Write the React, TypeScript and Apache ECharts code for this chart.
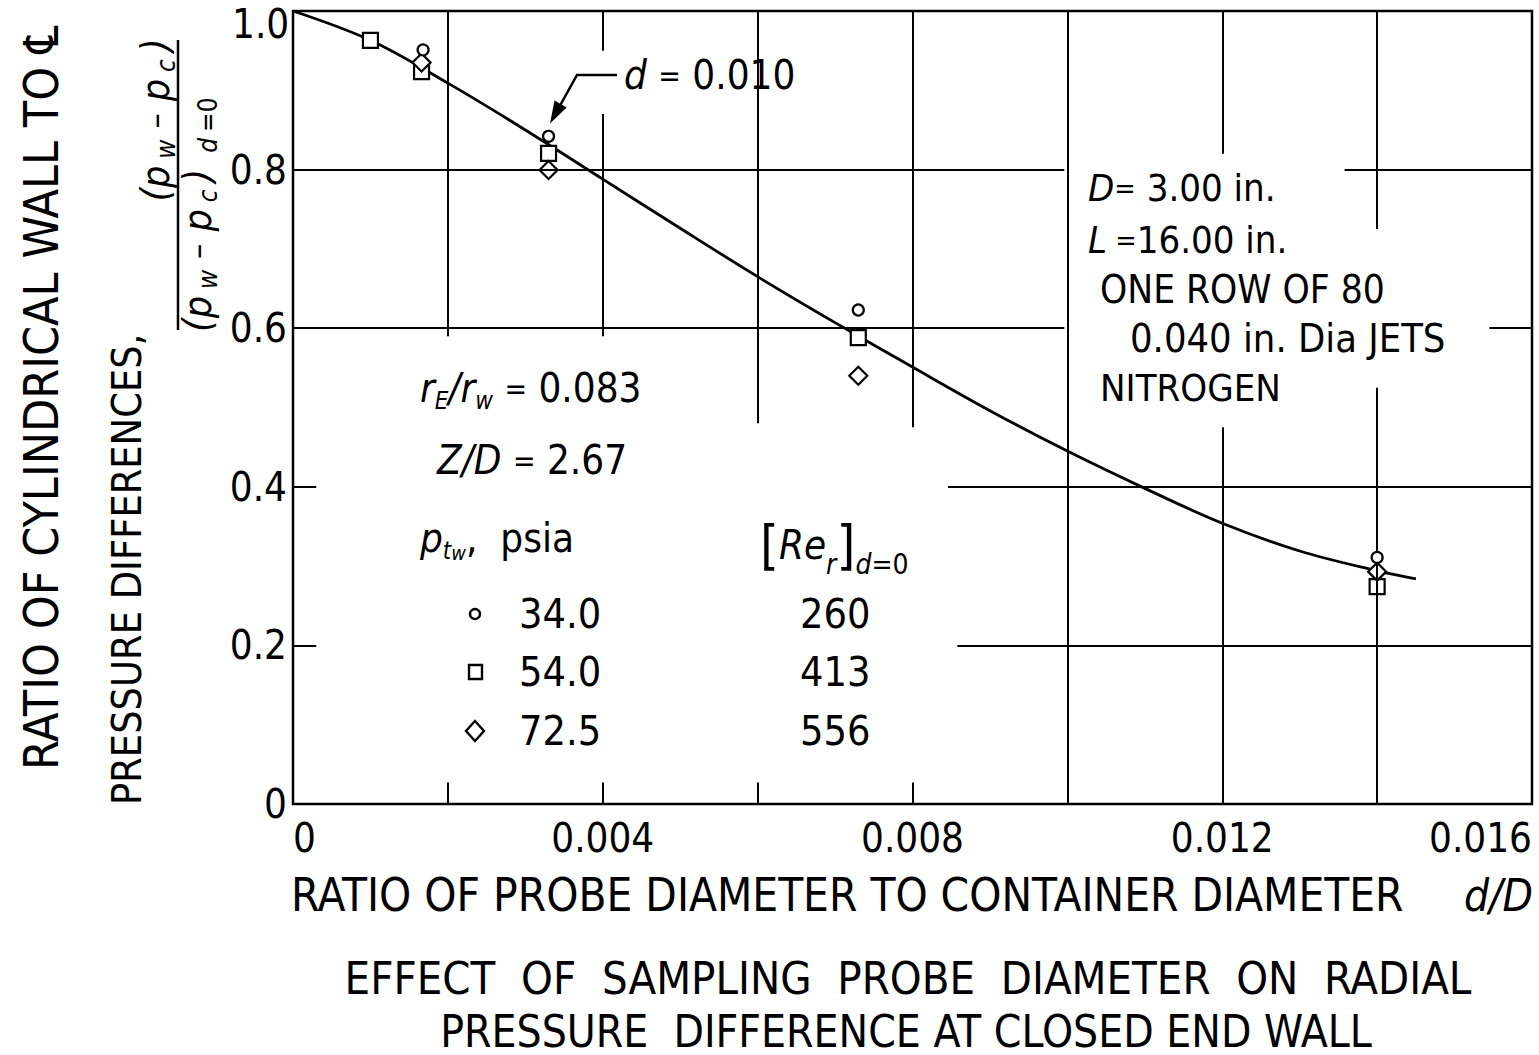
import React, { useEffect, useRef } from "react";
import * as echarts from "echarts";

const FONT = "'DejaVu Sans Condensed', 'DejaVu Sans', sans-serif";

// Fitted curve
const CURVE_X = [0, 0.001, 0.002, 0.003, 0.004, 0.005, 0.006, 0.007, 0.008, 0.009, 0.010, 0.011, 0.012, 0.013, 0.014, 0.0145];
const CURVE_Y = [1.0, 0.963, 0.909, 0.850, 0.788, 0.726, 0.665, 0.607, 0.551, 0.496, 0.445, 0.398, 0.354, 0.319, 0.294, 0.284];

// p_tw = 34.0 psia (circles)
const CIRCLE_X = [0.00168, 0.0033, 0.0073, 0.0140];
const CIRCLE_Y = [0.951, 0.842, 0.623, 0.311];
// p_tw = 54.0 psia (squares)
const SQUARE_X = [0.0010, 0.00166, 0.0033, 0.0073, 0.0140];
const SQUARE_Y = [0.963, 0.9235, 0.8205, 0.588, 0.274];
// p_tw = 72.5 psia (diamonds)
const DIAMOND_X = [0.00166, 0.0033, 0.0073, 0.0140];
const DIAMOND_Y = [0.935, 0.7995, 0.540, 0.293];

// Legend table
const LEGEND_PSIA = ["34.0", "54.0", "72.5"];
const LEGEND_RE = ["260", "413", "556"];

// Partial grid lines (they stop where the lettering sits)
const GRID_V: [number, number, number][] = [
  [0.002, 0.59, 1], [0.002, 0, 0.027],
  [0.004, 0.59, 0.87], [0.004, 0.95, 1], [0.004, 0, 0.027],
  [0.006, 0.48, 1], [0.006, 0, 0.027],
  [0.008, 0.475, 1], [0.008, 0, 0.027],
  [0.010, 0, 1],
  [0.012, 0, 0.475], [0.012, 0.82, 1],
  [0.014, 0, 0.525], [0.014, 0.725, 1],
];
const GRID_H: [number, number, number][] = [
  [0.2, 0, 0.0003], [0.2, 0.00858, 0.016],
  [0.4, 0, 0.0003], [0.4, 0.00846, 0.016],
  [0.6, 0, 0.00996], [0.6, 0.01545, 0.016],
  [0.8, 0, 0.00996], [0.8, 0.01358, 0.016],
];

const zip = (xs: number[], ys: number[]) => xs.map((x, i) => [x, ys[i]]);

const T = (fs: number, extra: any = {}) => ({ fontSize: fs, fontFamily: FONT, fill: "#000", lineHeight: fs * 1.25, verticalAlign: "middle", ...extra });
const S = (fs: number, extra: any = {}) => ({ fontSize: fs, fontFamily: FONT, fill: "#000", lineHeight: fs, verticalAlign: "bottom", ...extra });

function txt(x: number, y: number, text: string, fs: number, extra: any = {}, rot = 0, align = "left") {
  return {
    type: "text", x, y, rotation: rot, silent: true,
    style: { text, fontSize: fs, fontFamily: FONT, fill: "#000", align, verticalAlign: "middle", ...extra },
  };
}

function richTxt(x: number, y: number, text: string, rich: any, rot = 0, align = "left") {
  return {
    type: "text", x, y, rotation: rot, silent: true,
    style: { text, rich, fill: "#000", fontFamily: FONT, align, verticalAlign: "middle" },
  };
}

export default function App() {
  const ref = useRef<HTMLDivElement>(null);
  useEffect(() => {
    if (!ref.current) return;
    const chart = echarts.init(ref.current, null, { renderer: "svg" });
    const R90 = Math.PI / 2;
    const gridLines = [
      ...GRID_V.map(([x, a, b]) => [{ coord: [x, a] }, { coord: [x, b] }]),
      ...GRID_H.map(([y, a, b]) => [{ coord: [a, y] }, { coord: [b, y] }]),
    ];
    const mk = { color: "#fff", borderColor: "#000", borderWidth: 2.2, opacity: 1 };
    const eq = (fs: number) => T(fs * 0.75);
    const frac = {
      p: T(39, { fontStyle: "italic", padding: [0, 4] }),
      m: T(34, { padding: [0, 8] }),
      s: S(26, { fontStyle: "italic", padding: [0, 3] }),
      d: S(26, { fontStyle: "italic", padding: [0, 3, 0, 12] }),
      z: S(26, { padding: [0, 3] }),
    };
    const graphics: any[] = [
      // y max label (kept inside the page)
      txt(232, 24, "1.0", 40),
      // x axis title
      txt(291, 895, "RATIO OF PROBE DIAMETER TO CONTAINER DIAMETER", 45.5),
      txt(1464, 895, "d/D", 44, { fontStyle: "italic" }),
      // chart title
      txt(908, 978, "EFFECT  OF  SAMPLING  PROBE  DIAMETER  ON  RADIAL", 45, {}, 0, "center"),
      txt(906, 1031, "PRESSURE  DIFFERENCE AT CLOSED END WALL", 44, { lineHeight: 44 }, 0, "center"),
      // y axis title
      txt(41, 770, "RATIO OF CYLINDRICAL WALL TO \u2104", 48, {}, R90),
      txt(127, 805, "PRESSURE DIFFERENCES,", 41, {}, R90),
      richTxt(155, 120, "{p|(p}{s|w}{m|\u2013}{p|p}{s|c}{p|)}", frac, R90, "center"),
      { type: "line", silent: true, shape: { x1: 178, y1: 40, x2: 178, y2: 330 }, style: { stroke: "#000", lineWidth: 2.5 } },
      richTxt(197, 336, "{p|(p}{s|w}{m|\u2013}{p|p}{s|c}{p|)}{d|d}{z|=0}", frac, R90),
      // annotation d = 0.010
      richTxt(624, 75, "{i|d}{n| }{e|=}{n| 0.010}", { i: T(40, { fontStyle: "italic" }), n: T(40), e: eq(40) }),
      { type: "polyline", silent: true, shape: { points: [[617, 75], [577, 75], [557, 111]] }, style: { stroke: "#000", lineWidth: 2.5, fill: null } },
      { type: "polygon", silent: true, shape: { points: [[550, 123.5], [566.7, 107.4], [554.5, 100.6]] }, style: { fill: "#000" } },
      // right-hand notes
      richTxt(1088, 188, "{i|D}{e|=}{n| 3.00 in.}", { i: T(38, { fontStyle: "italic" }), n: T(38), e: eq(38) }),
      richTxt(1088, 240, "{i|L}{e| =}{n|16.00 in.}", { i: T(38, { fontStyle: "italic" }), n: T(38), e: eq(38) }),
      txt(1100, 289, "ONE ROW OF 80", 38.5),
      txt(1130, 338, "0.040 in. Dia JETS", 39.5),
      txt(1100, 388, "NITROGEN", 38),
      // left notes
      richTxt(420, 388, "{i|r}{s|E}{i|/r}{s|w}{n| }{e|=}{n| 0.083}", { i: T(40, { fontStyle: "italic" }), s: S(24, { fontStyle: "italic" }), n: T(40), e: eq(40) }),
      richTxt(437, 460, "{i|Z/D}{n| }{e|=}{n| 2.67}", { i: T(40, { fontStyle: "italic" }), n: T(40), e: eq(40) }),
      richTxt(420, 538, "{i|p}{s|t}{ss|w}{n|,  psia}", { i: T(40, { fontStyle: "italic" }), s: S(24, { fontStyle: "italic" }), ss: S(20, { fontStyle: "italic", lineHeight: 8 }), n: T(40) }),
      richTxt(760, 545, "{b|[}{i|Re}{s|r}{b|]}{s|d}{se|=0}", { b: T(54), i: T(40, { fontStyle: "italic" }), s: S(28, { fontStyle: "italic" }), se: S(28) }),
      // legend
      { type: "circle", silent: true, shape: { cx: 475, cy: 614, r: 5 }, style: { fill: "#fff", stroke: "#000", lineWidth: 2.4 } },
      { type: "rect", silent: true, shape: { x: 469, y: 665, width: 13, height: 14 }, style: { fill: "#fff", stroke: "#000", lineWidth: 2.4 } },
      { type: "polygon", silent: true, shape: { points: [[475, 721], [484, 731], [475, 741], [466, 731]] }, style: { fill: "#fff", stroke: "#000", lineWidth: 2.4 } },
      ...LEGEND_PSIA.map((t, i) => txt(519, [614, 672, 731][i], t, 41)),
      ...LEGEND_RE.map((t, i) => txt(800, [614, 672, 731][i], t, 41)),
    ];

    chart.setOption({
      animation: false,
      backgroundColor: "#fff",
      grid: { left: 293, right: 7, top: 11, bottom: 251, show: true, borderColor: "#000", borderWidth: 2.5, backgroundColor: "transparent" },
      xAxis: {
        type: "value", min: 0, max: 0.016, interval: 0.004,
        axisLine: { show: false }, axisTick: { show: false }, splitLine: { show: false },
        axisLabel: {
          formatter: (v: number) => (v === 0 ? "0" : v.toFixed(3)),
          fontSize: 40, fontFamily: FONT, color: "#000", margin: 14,
          alignMinLabel: "left", alignMaxLabel: "right",
        },
      },
      yAxis: {
        type: "value", min: 0, max: 1, interval: 0.2,
        axisLine: { show: false }, axisTick: { show: false }, splitLine: { show: false },
        axisLabel: {
          formatter: (v: number) => (v === 0 ? "0" : v.toFixed(1)),
          fontSize: 40, fontFamily: FONT, color: "#000", margin: 6,
          showMaxLabel: false,
        },
      },
      graphic: graphics,
      series: [
        {
          type: "line", data: zip(CURVE_X, CURVE_Y), smooth: 0.35, showSymbol: false, silent: true, z: 2,
          lineStyle: { color: "#000", width: 2.8 },
          markLine: { silent: true, symbol: ["none", "none"], label: { show: false }, lineStyle: { color: "#000", width: 2, type: "solid" }, data: gridLines },
        },
        { type: "scatter", data: zip(SQUARE_X, SQUARE_Y), symbol: "rect", symbolSize: 15, itemStyle: mk, z: 3, silent: true },
        { type: "scatter", data: zip(DIAMOND_X, DIAMOND_Y), symbol: "diamond", symbolSize: 18, itemStyle: mk, z: 4, silent: true },
        { type: "scatter", data: zip(CIRCLE_X, CIRCLE_Y), symbol: "circle", symbolSize: 11, itemStyle: mk, z: 5, silent: true },
      ],
    });
    return () => chart.dispose();
  }, []);
  return <div ref={ref} style={{ position: "fixed", left: 0, top: 0, width: 1539, height: 1055, background: "#fff" }} />;
}
